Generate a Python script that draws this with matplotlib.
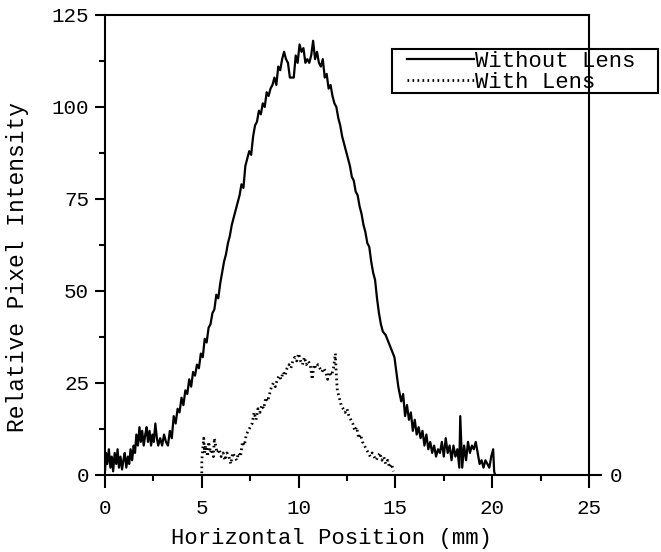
import matplotlib
matplotlib.use("Agg")
import matplotlib.pyplot as plt
from matplotlib.patches import Rectangle
from matplotlib.ticker import MultipleLocator

# Without Lens (solid)
x_without = [0.00, 0.05, 0.12, 0.20, 0.28, 0.35, 0.42, 0.50, 0.58, 0.65, 0.72, 0.80,
             0.88, 0.95, 1.02, 1.10, 1.18, 1.25, 1.32, 1.40, 1.48, 1.55, 1.62, 1.70,
             1.78, 1.85, 1.92, 2.00, 2.08, 2.15, 2.22, 2.30, 2.38, 2.45, 2.52, 2.60,
             2.68, 2.75, 2.85, 2.95, 3.05, 3.15, 3.25, 3.35, 3.45, 3.55, 3.65, 3.75,
             3.85, 3.95, 4.05, 4.15, 4.25, 4.35, 4.45, 4.55, 4.65, 4.75, 4.85, 4.95,
             5.05, 5.15, 5.25, 5.35, 5.45, 5.55, 5.65, 5.75, 5.85, 5.95, 6.05, 6.15,
             6.25, 6.35, 6.45, 6.55, 6.65, 6.75, 6.85, 6.95, 7.05, 7.15, 7.25, 7.35,
             7.45, 7.55, 7.65, 7.75, 7.85, 7.95, 8.05, 8.15, 8.25, 8.35, 8.45, 8.55,
             8.65, 8.75, 8.85, 8.95, 9.05, 9.15, 9.25, 9.35, 9.45, 9.55, 9.65, 9.75,
             9.85, 9.95, 10.05, 10.15, 10.25, 10.35, 10.45, 10.55, 10.65, 10.75, 10.85,
             10.95, 11.05, 11.15, 11.25, 11.35, 11.45, 11.55, 11.65, 11.75, 11.85, 11.95,
             12.05, 12.15, 12.25, 12.35, 12.45, 12.55, 12.65, 12.75, 12.85, 12.95, 13.05,
             13.15, 13.25, 13.35, 13.45, 13.55, 13.65, 13.75, 13.85, 13.95, 14.05, 14.15,
             14.25, 14.35, 14.50, 14.65, 14.80, 14.95, 15.05, 15.15, 15.30, 15.40, 15.50,
             15.60, 15.70, 15.80, 15.90, 16.00, 16.10, 16.20, 16.30, 16.40, 16.50, 16.60,
             16.70, 16.80, 16.90, 17.00, 17.10, 17.20, 17.30, 17.40, 17.50, 17.60, 17.70,
             17.80, 17.90, 18.00, 18.10, 18.20, 18.30, 18.35, 18.45, 18.55, 18.65, 18.75,
             18.85, 18.95, 19.05, 19.15, 19.25, 19.35, 19.45, 19.55, 19.65, 19.75, 19.85,
             19.95, 20.05, 20.10, 20.15]
y_without = [1, 6, 3, 7, 2, 5, 1, 6, 3, 7, 2, 5,
             1.5, 4, 6, 2, 5, 3, 7, 4, 8, 6, 11, 8,
             13, 9, 12, 8, 11, 13, 9, 12, 8, 11, 9, 14,
             10, 8, 10, 8, 11, 9, 8, 12, 10, 16, 14, 18,
             17, 21, 19, 23, 22, 26, 24, 28, 27, 30, 29, 33,
             32, 37, 36, 40, 41, 44, 45, 49, 48, 52, 55, 58,
             60, 63, 65, 68, 70, 72, 74, 76, 79, 78, 84, 86,
             88, 87, 92, 95, 96, 99, 98, 101, 100, 104, 103, 105,
             106, 108, 106, 111, 110, 113, 115, 113, 112, 108, 108, 108,
             114, 112, 117, 115, 116, 112, 113, 112, 114, 118, 113,
             115, 112, 111, 113, 108, 109, 105, 106, 103, 101, 100,
             97, 95, 92, 90, 88, 86, 84, 81, 80, 77, 76,
             73, 71, 68, 66, 63, 62, 58, 55, 53, 48, 44,
             41, 39, 38, 36, 34, 32, 28, 24, 20, 22, 16,
             19, 15, 17, 12, 15, 11, 13, 10, 12, 8, 11,
             7, 9, 6, 8, 5, 7, 6, 9, 5, 10, 6,
             8, 4, 8, 5, 7, 2, 16, 2, 8, 4, 9,
             6, 8, 7, 9, 6, 3, 4, 2, 4, 3, 2,
             5, 7, 1, 0]

# With Lens (dotted)
x_with = [5.0, 5.0, 5.05, 5.1, 5.15, 5.2, 5.3, 5.35, 5.45, 5.5, 5.6, 5.65, 5.75, 5.8,
          5.9, 6.0, 6.1, 6.2, 6.3, 6.4, 6.5, 6.6, 6.7, 6.8, 6.9, 7.0, 7.1, 7.2, 7.3,
          7.4, 7.5, 7.6, 7.7, 7.8, 7.9, 8.0, 8.1, 8.2, 8.3, 8.4, 8.5, 8.6, 8.7, 8.8,
          8.9, 9.0, 9.1, 9.2, 9.3, 9.4, 9.5, 9.6, 9.7, 9.8, 9.9, 10.0, 10.1, 10.2,
          10.3, 10.4, 10.5, 10.6, 10.7, 10.8, 10.9, 11.0, 11.1, 11.2, 11.3, 11.4,
          11.5, 11.6, 11.7, 11.8, 11.9, 11.95, 12.0, 12.1, 12.2, 12.3, 12.4, 12.5,
          12.6, 12.7, 12.8, 12.9, 13.0, 13.1, 13.2, 13.3, 13.4, 13.5, 13.6, 13.7,
          13.8, 13.9, 14.0, 14.1, 14.2, 14.3, 14.4, 14.5, 14.6, 14.7, 14.8, 14.9]
y_with = [0.5, 4, 7, 10, 6, 8, 5, 9, 6, 7, 5, 10, 7, 6,
          7, 5, 6, 4, 6, 5, 3, 6, 5, 4, 6, 5, 9, 8, 11,
          12, 13, 14, 17, 15, 18, 17, 19, 18, 21, 20, 22, 24, 25, 24,
          26, 27, 26, 28, 27, 29, 30, 29, 31, 32, 31, 33, 31, 30,
          32, 30, 31, 30, 26, 30, 29, 30, 29, 28, 29, 28,
          26, 28, 27, 29, 33, 27, 23, 21, 19, 18, 17, 18,
          16, 15, 14, 12, 13, 10, 11, 9, 8, 7, 6, 5,
          6, 5, 4, 5, 6, 4, 5, 3, 4, 2, 3, 1]

plt.rcParams['font.family'] = ['Liberation Mono', 'DejaVu Sans Mono']

fig = plt.figure(figsize=(6.61, 5.52), dpi=100)
ax = fig.add_axes([105 / 661, 77 / 552, 484 / 661, 460 / 552])

ax.plot(x_without, y_without, color='black', linewidth=1.6, label='Without Lens')
ax.plot(x_with, y_with, color='black', linewidth=2.0, linestyle=(0, (0.6, 1.2)),
        label='With Lens')

ax.set_xlim(0, 25)
ax.set_ylim(0, 125)
ax.xaxis.set_major_locator(MultipleLocator(5))
ax.xaxis.set_minor_locator(MultipleLocator(2.5))
ax.yaxis.set_major_locator(MultipleLocator(25))
ax.yaxis.set_minor_locator(MultipleLocator(12.5))

for s in ax.spines.values():
    s.set_linewidth(1.5)

ax.tick_params(which='major', direction='out', width=1.5, labelsize=15)
ax.tick_params(which='minor', direction='out', length=4.5, width=1.5)
ax.tick_params(axis='x', which='major', length=9, pad=8)
ax.tick_params(axis='y', which='major', length=7.5, pad=4)

ax.set_xlabel('Horizontal Position (mm)', fontsize=16)
ax.xaxis.set_label_coords(0.469, -0.115)
ax.set_ylabel('Relative Pixel Intensity', fontsize=16.5)
ax.yaxis.set_label_coords(-0.157, 0.452)

# right-hand axis showing only the zero mark
ax2 = ax.twinx()
ax2.set_ylim(0, 125)
ax2.set_yticks([0])
ax2.set_yticklabels(['0'])
ax2.tick_params(direction='out', length=9, width=1.5, labelsize=15, pad=6)
for s in ax2.spines.values():
    s.set_visible(False)

# legend box sticks out past the right spine, as in the original
ax.add_patch(Rectangle((0.593, 0.830), 0.5496, 0.096, transform=ax.transAxes,
                       fill=False, edgecolor='black', linewidth=1.5, clip_on=False))
ax.legend(loc='upper left', bbox_to_anchor=(0.624, 0.9217), fontsize=16,
          frameon=False, borderaxespad=0, borderpad=0, labelspacing=0,
          handlelength=3.0, handletextpad=0.05)

fig.savefig('out.png', dpi=100)
